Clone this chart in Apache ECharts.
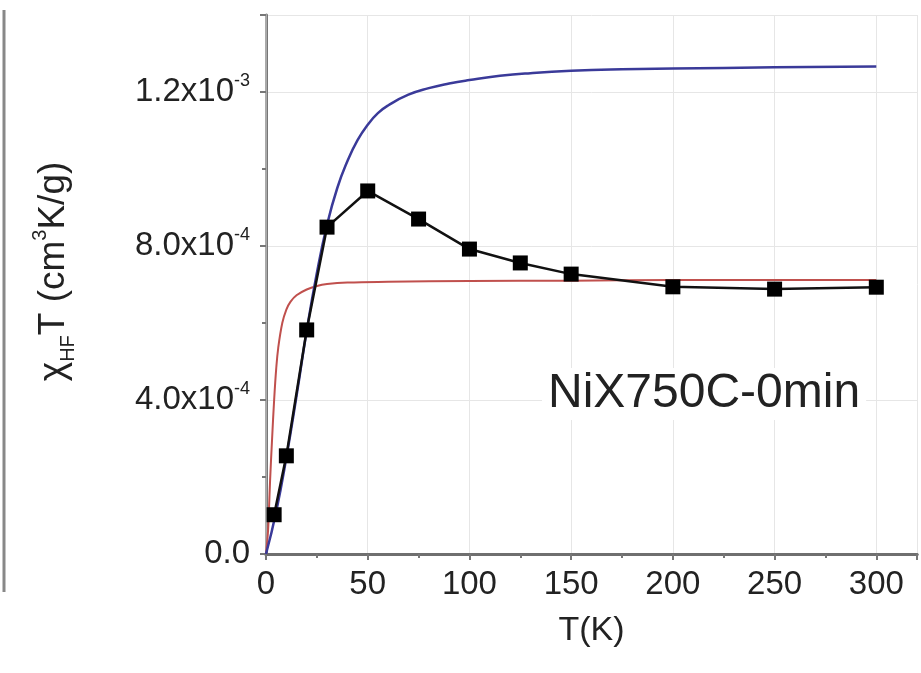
<!DOCTYPE html>
<html>
<head>
<meta charset="utf-8">
<script src="https://cdn.jsdelivr.net/npm/echarts@6/dist/echarts.min.js"></script>
<style>
html,body{margin:0;padding:0;background:#fff;}
#c{width:921px;height:673px;}
</style>
</head>
<body>
<div id="c"></div>
<script>
// Measured data (T in K, chi*T in cm^3K/g)
var dataT = [4, 10, 20, 30, 50, 75, 100, 125, 150, 200, 250, 300];
var dataY = [1.02e-4, 2.55e-4, 5.82e-4, 8.49e-4, 9.43e-4, 8.70e-4, 7.92e-4, 7.56e-4, 7.27e-4, 6.94e-4, 6.88e-4, 6.93e-4];

// Blue fit curve
var blueT = [0, 5, 10, 15, 20, 25, 30, 35, 40, 45, 50, 55, 60, 70, 80, 90, 100, 115, 130, 150, 175, 200, 250, 300];
var blueY = [0, 1.1e-4, 2.5e-4, 4.1e-4, 5.8e-4, 7.3e-4, 8.55e-4, 9.5e-4, 1.02e-3, 1.075e-3, 1.115e-3, 1.145e-3, 1.165e-3, 1.193e-3, 1.21e-3, 1.222e-3, 1.231e-3, 1.242e-3, 1.249e-3, 1.255e-3, 1.259e-3, 1.261e-3, 1.264e-3, 1.266e-3];

// Red fit curve
var redT = [0, 1, 1.5, 2, 3, 4, 5, 6, 8, 10, 12, 15, 20, 25, 30, 40, 60, 100, 150, 200, 250, 300];
var redY = [0, 0.6e-4, 1.2e-4, 1.9e-4, 3.0e-4, 4.0e-4, 4.8e-4, 5.35e-4, 6.0e-4, 6.35e-4, 6.55e-4, 6.72e-4, 6.87e-4, 6.96e-4, 7.01e-4, 7.05e-4, 7.07e-4, 7.09e-4, 7.1e-4, 7.12e-4, 7.12e-4, 7.12e-4];

// Tick labels
var yTickValues = [0, 4, 8, 12]; // in units of 1e-4
var yTickMant = ['0.0', '4.0', '8.0', '1.2'];
var yTickExp = ['', '-4', '-4', '-3'];
var xTickLabels = ['0', '50', '100', '150', '200', '250', '300'];

var annotation = 'NiX750C-0min';

function zip(a, b) { return a.map(function (v, i) { return [v, b[i]]; }); }

var font = '"Liberation Sans", Arial, sans-serif';
var chart = echarts.init(document.getElementById('c'));
chart.setOption({
  backgroundColor: '#fff',
  animation: false,
  grid: { left: 266, top: 15, right: 4, bottom: 119, containLabel: false },
  xAxis: [{
    type: 'value', min: 0, max: 320, interval: 50,
    name: 'T(K)', nameLocation: 'middle', nameGap: 60,
    nameTextStyle: { fontFamily: font, fontSize: 34, color: '#222' },
    axisLine: { show: true, onZero: false, lineStyle: { color: '#777', width: 3 } },
    axisTick: { show: true, inside: false, length: 6, lineStyle: { color: '#777', width: 2 } },
    minorTick: { show: true, splitNumber: 2, length: 4, lineStyle: { color: '#777', width: 2 } },
    splitLine: { show: true, lineStyle: { color: '#e6e6e6', width: 1 } },
    axisLabel: {
      fontFamily: font, fontSize: 33, color: '#222', margin: 14, showMaxLabel: false,
      formatter: function (v) {
        var i = Math.round(v / 50);
        return (Math.abs(v - i * 50) < 1e-6 && xTickLabels[i] !== undefined) ? xTickLabels[i] : '';
      }
    }
  }, {
    type: 'value', min: 0, max: 320, position: 'top',
    axisLine: { show: true, lineStyle: { color: '#6f6f6f', width: 3 } },
    axisTick: { show: false }, axisLabel: { show: false }, splitLine: { show: false }
  }],
  yAxis: [{
    type: 'value', min: 0, max: 1.4e-3, interval: 4e-4,
    name: '{t|χ}{sub|HF}{t|T (cm}{sup|3}{t|K/g)}',
    nameLocation: 'middle', nameRotate: 90, nameGap: 188,
    nameTextStyle: {
      fontFamily: font, color: '#222', padding: [0, 0, 0, 26],
      rich: {
        t: { fontFamily: font, fontSize: 37, color: '#222', lineHeight: 48 },
        sub: { fontFamily: font, fontSize: 20, color: '#222', lineHeight: 12, verticalAlign: 'bottom' },
        sup: { fontFamily: font, fontSize: 20, color: '#222', lineHeight: 20, verticalAlign: 'top' }
      }
    },
    axisLine: { show: true, onZero: false, lineStyle: { color: '#777', width: 3 } },
    axisTick: { show: true, inside: false, length: 6, lineStyle: { color: '#777', width: 2 } },
    minorTick: { show: true, splitNumber: 2, length: 4, lineStyle: { color: '#777', width: 2 } },
    splitLine: { show: true, lineStyle: { color: '#e6e6e6', width: 1 } },
    axisLabel: {
      fontFamily: font, fontSize: 33, color: '#222', margin: 16, showMaxLabel: false,
      formatter: function (v) {
        var k = Math.round(v / 1e-4);
        var i = yTickValues.indexOf(k);
        if (i < 0 || Math.abs(v - k * 1e-4) > 1e-9) return '';
        if (!yTickExp[i]) return '{m|' + yTickMant[i] + '}';
        return '{m|' + yTickMant[i] + 'x10}{e|' + yTickExp[i] + '}';
      },
      rich: {
        m: { fontFamily: font, fontSize: 33, color: '#222', lineHeight: 40 },
        e: { fontFamily: font, fontSize: 18, color: '#222', lineHeight: 20, verticalAlign: 'top' }
      }
    }
  }, {
    type: 'value', min: 0, max: 1.4e-3, position: 'right',
    axisLine: { show: true, lineStyle: { color: '#aaa', width: 2 } },
    axisTick: { show: false }, axisLabel: { show: false }, splitLine: { show: false }
  }],
  graphic: [
    { type: 'line', shape: { x1: 4, y1: 10, x2: 4, y2: 592 }, style: { stroke: '#888', lineWidth: 3 } },
    { type: 'text', left: 542, top: 368, z: 10,
      style: { text: annotation, font: '48px "Liberation Sans", Arial, sans-serif', fill: '#222',
               backgroundColor: '#fff', padding: [2, 6, 2, 6] } }
  ],
  series: [{
    type: 'line', data: zip(redT, redY), showSymbol: false, smooth: 0.4,
    lineStyle: { color: '#c0504d', width: 2 }, z: 2
  }, {
    type: 'line', data: zip(blueT, blueY), showSymbol: false, smooth: 0.5,
    lineStyle: { color: '#3a3a99', width: 2.5 }, z: 3
  }, {
    type: 'line', data: zip(dataT, dataY), symbol: 'rect', symbolSize: 15,
    itemStyle: { color: '#000' }, lineStyle: { color: '#111', width: 2.5 }, z: 4
  }]
});
</script>
</body>
</html>
